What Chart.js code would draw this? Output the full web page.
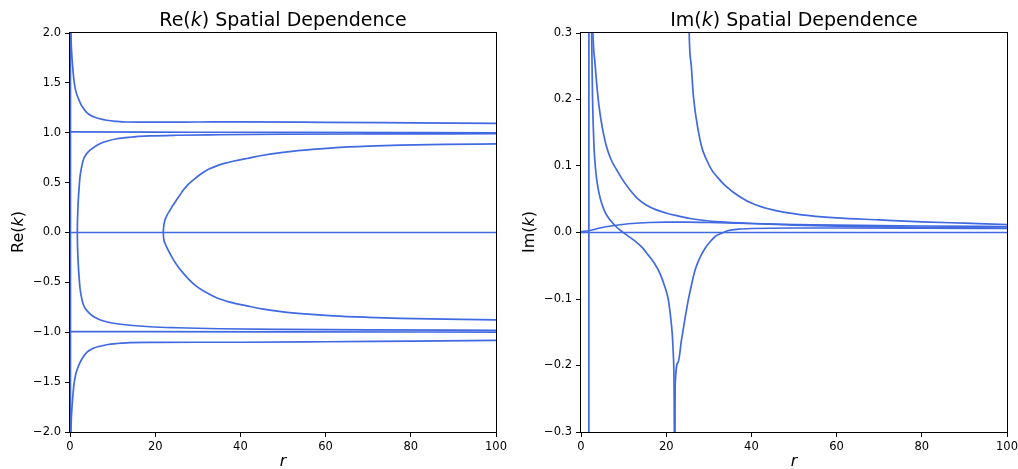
<!DOCTYPE html>
<html>
<head>
<meta charset="utf-8">
<script src="https://cdn.jsdelivr.net/npm/chart.js@4.4.1/dist/chart.umd.min.js"></script>
<style>
  body { margin: 0; background: #fff; }
  #wrap { position: relative; width: 1018px; height: 469px; overflow: hidden; font-family: "DejaVu Sans", sans-serif; color: #000; }
  .pane { position: absolute; top: 0; width: 509px; height: 469px; }
  .ttl { position: absolute; top: 10px; font-size: 19px; line-height: 19px; white-space: nowrap; transform: translateX(-50%); }
  .ylab { position: absolute; top: 232px; font-size: 16px; line-height: 16px; white-space: nowrap; transform: translate(-50%, -50%) rotate(-90deg); }
  .xlab { position: absolute; top: 453px; font-size: 16px; line-height: 16px; transform: translateX(-50%); }
</style>
</head>
<body>
<div id="wrap">
  <div class="pane" style="left:0"><canvas id="reChart" width="509" height="469"></canvas></div>
  <div class="pane" style="left:509px"><canvas id="imChart" width="509" height="469"></canvas></div>
  <div class="ttl" style="left:283px">Re(<i>k</i>) Spatial Dependence</div>
  <div class="ttl" style="left:794px">Im(<i>k</i>) Spatial Dependence</div>
  <div class="ylab" style="left:18px">Re(<i>k</i>)</div>
  <div class="ylab" style="left:529px">Im(<i>k</i>)</div>
  <div class="xlab" style="left:283px"><i>r</i></div>
  <div class="xlab" style="left:794px"><i>r</i></div>
</div>
<script>
// tick values
const rTicks = [0, 20, 40, 60, 80, 100];
const reTicks = [-2.0, -1.5, -1.0, -0.5, 0.0, 0.5, 1.0, 1.5, 2.0];
const imTicks = [-0.3, -0.2, -0.1, 0.0, 0.1, 0.2, 0.3];

// Re(k) branches, [r, Re k]
const reOuterUp = [[0.1, 2.6], [0.23, 2.0], [0.4, 1.8], [0.63, 1.66], [0.94, 1.52], [1.3, 1.43], [1.8, 1.36], [2.4, 1.3], [2.9, 1.26], [4.0, 1.2], [5.5, 1.16], [7, 1.14], [8.6, 1.125], [11, 1.114], [13.3, 1.108], [20, 1.106], [30, 1.108], [40, 1.11], [60, 1.105], [80, 1.099], [100, 1.093]];
const reOuterDown = [[0.1, -2.6], [0.23, -2.0], [0.4, -1.8], [0.63, -1.66], [0.94, -1.52], [1.3, -1.43], [1.8, -1.36], [2.4, -1.3], [2.9, -1.26], [4.0, -1.2], [5.5, -1.16], [7, -1.14], [8.6, -1.125], [11, -1.113], [13.3, -1.106], [20, -1.102], [30, -1.1], [40, -1.1], [60, -1.095], [80, -1.088], [100, -1.082]];
const reFlatUp = [[0, 1.008], [20, 1.006], [50, 1.003], [100, 1.0]];
const reFlatDown = [[0, -0.993], [50, -0.996], [100, -0.998]];
const reInnerUp = [[1.72, 0], [1.75, 0.1], [1.82, 0.2], [1.95, 0.325], [2.12, 0.44], [2.35, 0.558], [2.7, 0.65], [3.1, 0.725], [3.8, 0.785], [4.7, 0.825], [5.8, 0.86], [7, 0.89], [9, 0.92], [11, 0.94], [14, 0.955], [18.8, 0.968], [25, 0.975], [35, 0.98], [50, 0.985], [70, 0.988], [100, 0.99]];
const reInnerDown = [[1.72, 0], [1.75, -0.1], [1.82, -0.2], [1.95, -0.325], [2.12, -0.44], [2.35, -0.558], [2.7, -0.65], [3.1, -0.72], [3.8, -0.775], [4.7, -0.815], [5.8, -0.85], [7, -0.875], [9, -0.9], [11, -0.915], [14, -0.93], [18.8, -0.945], [25, -0.955], [35, -0.965], [50, -0.972], [70, -0.977], [100, -0.98]];
const reForkUp = [[21.9, 0], [21.95, 0.04], [22.05, 0.08], [22.3, 0.125], [22.8, 0.175], [23.5, 0.225], [24.2, 0.275], [25.0, 0.325], [25.8, 0.375], [26.6, 0.425], [27.6, 0.475], [28.9, 0.525], [30.4, 0.577], [32.1, 0.625], [34, 0.66], [36, 0.69], [38.5, 0.717], [41.5, 0.742], [45, 0.772], [50, 0.803], [55, 0.825], [61.8, 0.848], [70, 0.865], [77.5, 0.875], [88, 0.883], [100, 0.888]];
const reForkDown = [[21.9, 0], [21.95, -0.04], [22.05, -0.075], [22.3, -0.108], [23.2, -0.19], [24.3, -0.275], [25.4, -0.345], [26.6, -0.408], [28, -0.475], [29.7, -0.54], [31.9, -0.6], [34.4, -0.655], [37.5, -0.698], [41.5, -0.735], [45, -0.765], [50, -0.795], [55, -0.815], [61.8, -0.835], [70, -0.85], [77.5, -0.86], [88, -0.869], [100, -0.876]];
const reZero = [[0, 0], [100, 0]];
const reWall = [[0.1, -2.5], [0.1, 2.5]];

// Im(k) branches, [r, Im k]
const imWall = [[1.85, -0.4], [1.85, 0.4]];
const imSteep = [[2.4, 0.4], [2.5, 0.3], [2.6, 0.25], [2.7, 0.204], [2.85, 0.165], [3.05, 0.129], [3.35, 0.1], [3.7, 0.079], [4.2, 0.06], [4.85, 0.044], [5.7, 0.03], [6.8, 0.019], [8.2, 0.009], [9.7, 0.001], [11, -0.005], [12.7, -0.013], [14.3, -0.022], [15.8, -0.034], [17.3, -0.047], [18.5, -0.061], [19.6, -0.08], [20.5, -0.101], [21.0, -0.125], [21.4, -0.151], [21.65, -0.18], [21.8, -0.21], [21.88, -0.26], [21.95, -0.4]];
const imDecay = [[2.5, 0.4], [2.8, 0.3], [3.3, 0.254], [3.85, 0.212], [4.46, 0.179], [5.2, 0.151], [6.0, 0.129], [7.1, 0.109], [8.4, 0.094], [9.9, 0.078], [11.5, 0.064], [13.3, 0.051], [15.4, 0.041], [17.7, 0.034], [20.1, 0.029], [22.7, 0.025], [25.6, 0.021], [29, 0.018], [32.6, 0.016], [40, 0.0135], [50, 0.011], [60, 0.0095], [80, 0.0078], [100, 0.0068]];
const imRise = [[22.0, -0.45], [22.1, -0.231], [22.8, -0.195], [23.6, -0.161], [24.4, -0.13], [25.2, -0.101], [26, -0.077], [26.8, -0.056], [27.9, -0.038], [29.1, -0.024], [30.3, -0.014], [31.5, -0.006], [33, -0.001], [34.6, 0.003], [37, 0.005], [40, 0.006], [50, 0.0068], [60, 0.0068], [80, 0.0065], [100, 0.006]];
const imLate = [[25.2, 0.4], [25.4, 0.3], [25.9, 0.25], [26.4, 0.204], [27.5, 0.154], [28.4, 0.127], [29.5, 0.109], [30.6, 0.095], [31.9, 0.084], [33.8, 0.071], [37, 0.055], [40.8, 0.042], [45, 0.034], [51.4, 0.027], [60, 0.022], [70, 0.019], [80, 0.016], [90, 0.014], [100, 0.012]];
const imHump = [[0, 0.001], [2, 0.003], [5, 0.0075], [8, 0.0105], [12, 0.0135], [16, 0.015], [20, 0.0155], [25, 0.0155], [30, 0.015], [40, 0.0135], [50, 0.012], [60, 0.011], [80, 0.0098], [100, 0.009]];
const imZero = [[0, 0], [100, 0]];

const lineColor = '#4169E1';

function toSet(pairs, smooth) {
    return {
        data: pairs.map(p => ({ x: p[0], y: p[1] })),
        borderColor: lineColor,
        borderWidth: 1.7,
        pointRadius: 0,
        fill: false,
        clip: 0,
        cubicInterpolationMode: smooth ? 'monotone' : 'default',
        tension: 0
    };
}

function fmt(v) {
    if (Math.abs(v) < 1e-9) v = 0;
    return v.toFixed(1).replace('-', '\u2212');
}

// frame drawn over the lines like matplotlib spines
const frame = {
    id: 'frame',
    afterDatasetsDraw(chart) {
        const a = chart.chartArea;
        const ctx = chart.ctx;
        ctx.save();
        ctx.strokeStyle = '#000';
        ctx.lineWidth = 1;
        ctx.strokeRect(Math.round(a.left) - 0.5, Math.round(a.top) - 0.5, Math.round(a.right - a.left) + 1, Math.round(a.bottom - a.top) + 1);
        ctx.restore();
    }
};

function makeChart(id, sets, yTicks, yMin, yMax, yWidth, padRight) {
    const axisGrid = { display: true, drawOnChartArea: false, drawTicks: true, tickLength: 5, tickWidth: 1, tickColor: '#000' };
    return new Chart(document.getElementById(id), {
        type: 'line',
        data: { datasets: sets },
        options: {
            responsive: false,
            animation: false,
            events: [],
            layout: { autoPadding: false, padding: { left: 0, top: 33, right: padRight, bottom: 0 } },
            plugins: { legend: { display: false }, tooltip: { enabled: false } },
            scales: {
                x: {
                    type: 'linear',
                    min: 0,
                    max: 100,
                    grid: axisGrid,
                    border: { display: false },
                    afterBuildTicks: s => { s.ticks = rTicks.map(v => ({ value: v })); },
                    afterFit: s => { s.height = 37; s.paddingLeft = 0; s.paddingRight = 0; },
                    ticks: { color: '#000', padding: 3, maxRotation: 0, font: { family: 'DejaVu Sans', size: 11.5 }, callback: v => String(v) }
                },
                y: {
                    type: 'linear',
                    min: yMin,
                    max: yMax,
                    grid: axisGrid,
                    border: { display: false },
                    afterBuildTicks: s => { s.ticks = yTicks.map(v => ({ value: v })); },
                    afterFit: s => { s.width = yWidth; s.paddingTop = 0; s.paddingBottom = 0; },
                    ticks: { color: '#000', padding: 4, font: { family: 'DejaVu Sans', size: 11.5 }, callback: v => fmt(v) }
                }
            }
        },
        plugins: [frame]
    });
}

makeChart('reChart', [
    toSet(reWall, false),
    toSet(reZero, false),
    toSet(reOuterUp, true),
    toSet(reOuterDown, true),
    toSet(reFlatUp, true),
    toSet(reFlatDown, true),
    toSet(reInnerUp, true),
    toSet(reInnerDown, true),
    toSet(reForkUp, true),
    toSet(reForkDown, true)
], reTicks, -2, 2, 70, 13);

makeChart('imChart', [
    toSet(imWall, false),
    toSet(imZero, false),
    toSet(imSteep, true),
    toSet(imDecay, true),
    toSet(imRise, true),
    toSet(imLate, true),
    toSet(imHump, true)
], imTicks, -0.3, 0.3, 72, 11);
</script>
</body>
</html>
